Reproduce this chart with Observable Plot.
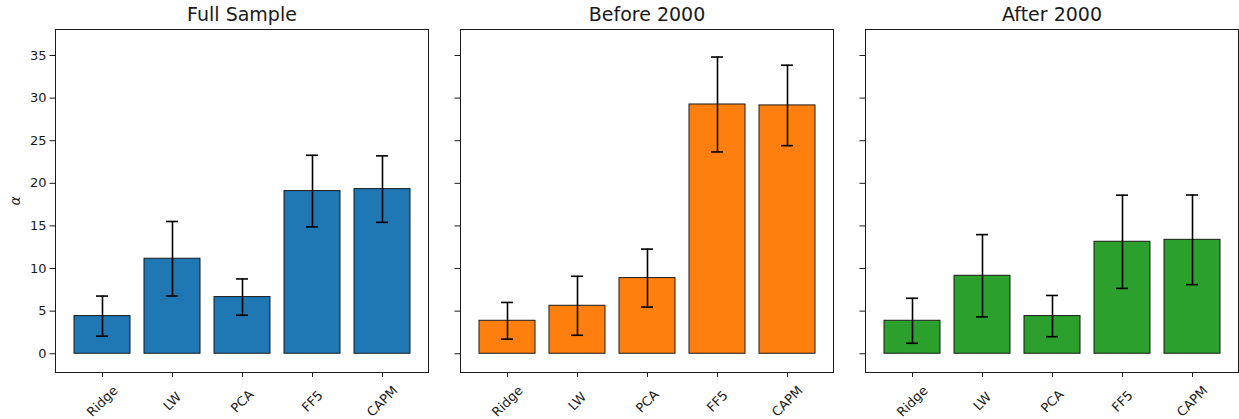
<!DOCTYPE html>
<html>
<head>
<meta charset="utf-8">
<script src="https://cdn.jsdelivr.net/npm/d3@7"></script>
<script src="https://cdn.jsdelivr.net/npm/@observablehq/plot@0.6"></script>
<style>
  html, body { margin: 0; padding: 0; background: #fff; }
  #chart { position: relative; width: 1239px; height: 419px; overflow: hidden; }
  #chart svg { position: absolute; top: 0; }
</style>
</head>
<body>
<div id="chart"></div>
<script>
// Estimated alpha per model, with error-bar half-widths, for three sample periods
const models = ["Ridge", "LW", "PCA", "FF5", "CAPM"];

const fullAlpha = [4.42, 11.15, 6.65, 19.09, 19.32];
const fullErr   = [2.35, 4.37, 2.13, 4.20, 3.90];

const beforeAlpha = [3.87, 5.63, 8.88, 29.25, 29.14];
const beforeErr   = [2.15, 3.46, 3.40, 5.57, 4.72];

const afterAlpha = [3.87, 9.15, 4.42, 13.14, 13.37];
const afterErr   = [2.64, 4.83, 2.42, 5.47, 5.26];

const yTicks = [0, 5, 10, 15, 20, 25, 30, 35];
const yDomain = [-2.2, 38.05];

const panels = [
  {title: "Full Sample", alpha: fullAlpha, err: fullErr, color: "#1f77b4", left: 0, labels: true},
  {title: "Before 2000", alpha: beforeAlpha, err: beforeErr, color: "#ff7f0e", left: 405, labels: false},
  {title: "After 2000", alpha: afterAlpha, err: afterErr, color: "#2ca02c", left: 810, labels: false}
];

const ink = "#1a1a1a";
const chart = document.getElementById("chart");

for (const p of panels) {
  const rows = models.map((m, i) => ({
    model: m,
    alpha: p.alpha[i],
    lo: p.alpha[i] - p.err[i],
    hi: p.alpha[i] + p.err[i]
  }));

  const svg = Plot.plot({
    width: 429,
    height: 419,
    marginLeft: 55,
    marginRight: 1,
    marginTop: 29,
    marginBottom: 47,
    style: {fontFamily: "DejaVu Sans, sans-serif", fontSize: "13px", background: "transparent", overflow: "visible"},
    x: {type: "band", domain: models, paddingInner: 0.2, paddingOuter: 0.24, align: 0.5, axis: null},
    y: {domain: yDomain, axis: null},
    marks: [
      Plot.barY(rows, {x: "model", y1: 0, y2: "alpha", fill: p.color, stroke: ink, strokeWidth: 1}),
      Plot.ruleX(rows, {x: "model", y1: "lo", y2: "hi", stroke: "black", strokeWidth: 1.6}),
      Plot.tickY(rows, {x: "model", y: "lo", stroke: "black", strokeWidth: 1.6, insetLeft: 22, insetRight: 22}),
      Plot.tickY(rows, {x: "model", y: "hi", stroke: "black", strokeWidth: 1.6, insetLeft: 22, insetRight: 22}),
      Plot.frame({stroke: ink, strokeWidth: 1}),
      Plot.axisY(yTicks, {
        anchor: "left", tickSize: 5.5, tickPadding: 3.5, fontSize: 13, color: ink,
        tickFormat: p.labels ? (d => String(d)) : (() => ""), label: null
      }),
      Plot.axisX(models, {anchor: "bottom", tickSize: 5, tickFormat: () => "", label: null, color: ink}),
      Plot.text(models, {
        x: d => d, frameAnchor: "bottom", dy: 29, rotate: -45, fontSize: 13,
        fill: ink, textAnchor: "middle", lineAnchor: "middle"
      }),
      Plot.text([p.title], {
        frameAnchor: "top", dy: -14.5, fontSize: 19, fill: ink,
        textAnchor: "middle", lineAnchor: "middle"
      }),
      p.labels ? Plot.text(["α"], {
        frameAnchor: "left", dx: -40, rotate: -90, fontSize: 14, fontStyle: "italic",
        fill: ink, textAnchor: "middle", lineAnchor: "middle"
      }) : null
    ]
  });
  svg.style.left = p.left + "px";
  chart.appendChild(svg);
}
</script>
</body>
</html>
